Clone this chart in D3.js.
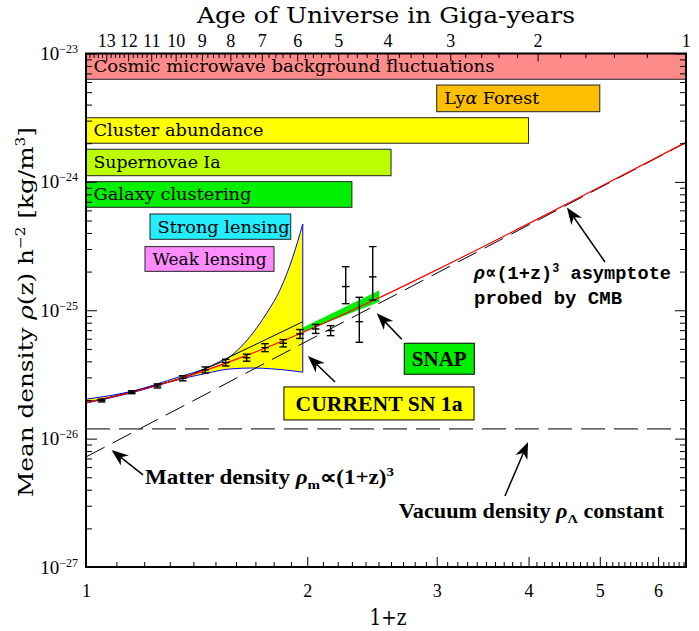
<!DOCTYPE html>
<html><head><meta charset="utf-8">
<script src="https://cdn.jsdelivr.net/npm/d3@7"></script>
<style>body{margin:0;background:#fff}svg{display:block}</style>
</head><body>
<svg id="chart" width="699" height="631"></svg>
<script>
// ---------------- data ----------------
const xDomain = [1, 6.55];              // 1+z
const yDomain = [1e-27, 1e-23];         // kg/m^3 h^-2
const xTickLabels = [1, 2, 3, 4, 5, 6];
const yTickExponents = [-27, -26, -25, -24, -23];
const ageLabels = [13, 12, 11, 10, 9, 8, 7, 6, 5, 4, 3, 2, 1];   // Gyr
const OMEGA_M = 0.38, OMEGA_L = 0.62, AGE_SCALE_GYR = 13.12;

const probeNames = ["Cosmic microwave background fluctuations", "Lyα Forest", "Cluster abundance",
  "Supernovae Ia", "Galaxy clustering", "Strong lensing", "Weak lensing"];
const probeZ0 = [1, 3.0, 1, 1, 1, 1.222, 1.203];
const probeZ1 = [6.55, 5.0, 4.0, 2.60, 2.30, 1.899, 1.802];
const probeRhoTop = [1e-23, 5.68e-24, 3.16e-24, 1.795e-24, 1.004e-24, 5.62e-25, 3.13e-25];
const probeRhoBottom = [6.30e-24, 3.52e-24, 2.0e-24, 1.117e-24, 6.34e-25, 3.57e-25, 2.01e-25];

const totalZ = [1, 1.1, 1.2, 1.3, 1.4, 1.5, 1.6, 1.7, 1.8, 1.9, 2.0, 2.25, 2.5, 3, 4, 5, 6.55];
const totalRho = [1.91e-26, 2.148e-26, 2.434e-26, 2.772e-26, 3.166e-26, 3.62e-26, 4.139e-26, 4.727e-26,
  5.389e-26, 6.128e-26, 6.95e-26, 9.391e-26, 1.244e-25, 2.063e-25, 4.727e-25, 9.119e-25, 2.035e-24];

const matterZ = [1, 6.55];
const matterRho = [7.2e-27, 2.023e-24];
const vacuumZ = [1, 6.55];
const vacuumRho = [1.19e-26, 1.19e-26];

const altModelZ = [1, 1.2, 1.4, 1.57, 1.973];
const altModelRho = [1.91e-26, 2.45e-26, 3.2e-26, 4.35e-26, 8.15e-26];

const sn1aUpperZ = [1, 1.148, 1.342, 1.459, 1.570, 1.687, 1.762, 1.836, 1.912, 1.972];
const sn1aUpperRho = [2.03e-26, 2.32e-26, 3.04e-26, 3.54e-26, 4.35e-26, 6.66e-26, 9.53e-26, 1.44e-25, 2.61e-25, 4.70e-25];
const sn1aLowerZ = [1, 1.148, 1.342, 1.459, 1.570, 1.689, 1.797, 1.912, 1.972];
const sn1aLowerRho = [1.89e-26, 2.26e-26, 2.90e-26, 3.23e-26, 3.49e-26, 3.55e-26, 3.49e-26, 3.37e-26, 3.29e-26];

const snapUpperZ = [1.973, 2.504];
const snapUpperRho = [7.3e-26, 1.42e-25];
const snapLowerZ = [1.973, 2.504];
const snapLowerRho = [6.8e-26, 1.165e-25];

const snZ = [1.050, 1.154, 1.251, 1.354, 1.453, 1.549, 1.654, 1.752, 1.855, 1.955, 2.053, 2.152, 2.256, 2.354, 2.455];
const snRho = [1.98e-26, 2.30e-26, 2.57e-26, 2.95e-26, 3.43e-26, 3.91e-26, 4.27e-26, 5.11e-26, 5.53e-26, 6.54e-26, 7.15e-26, 6.94e-26, 1.53e-25, 8.15e-26, 1.82e-25];
const snLow = [1.93e-26, 2.24e-26, 2.48e-26, 2.82e-26, 3.25e-26, 3.68e-26, 4.01e-26, 4.76e-26, 5.18e-26, 6.03e-26, 6.60e-26, 6.34e-26, 1.125e-25, 5.63e-26, 1.20e-25];
const snHigh = [2.03e-26, 2.36e-26, 2.67e-26, 3.09e-26, 3.62e-26, 4.15e-26, 4.55e-26, 5.49e-26, 5.91e-26, 7.08e-26, 7.75e-26, 7.59e-26, 2.185e-25, 1.262e-25, 3.13e-25];

// annotation anchors in data space [1+z, rho]
const arrowTails = [[5.082, 2.377e-25], [2.689, 5.944e-26], [2.182, 2.764e-26], [1.1955, 5.218e-27], [3.715, 3.578e-27]];
const arrowTips  = [[4.511, 6.321e-25], [2.486, 9.477e-26], [2.004, 4.406e-26], [1.0832, 8.167e-27], [3.994, 9.426e-27]];

// ---------------- styles ----------------
const probeFill = ["#ff8a8a", "#ffbf00", "#ffff00", "#bbff00", "#00f000", "#22eeff", "#ff8cff"];
const probeTextLen = [401, 95, 170, 127, 158, 132, 114];
const SERIF = "'DejaVu Serif', serif";
const NUMF = "'Liberation Serif', 'Times New Roman', serif";

const svg = d3.select("#chart");
const M = {left: 86, right: 686, top: 53.5, bottom: 567};
const x = d3.scaleLog().domain(xDomain).range([M.left, M.right]);
const y = d3.scaleLog().domain(yDomain).range([M.bottom, M.top]);

svg.append("defs").append("clipPath").attr("id", "clip")
  .append("rect").attr("x", M.left).attr("y", M.top).attr("width", M.right - M.left).attr("height", M.bottom - M.top);
const plot = svg.append("g").attr("clip-path", "url(#clip)");

// probe boxes
probeNames.forEach((name, i) => {
  const x0 = x(probeZ0[i]), x1 = x(probeZ1[i]), y0 = y(probeRhoTop[i]), y1 = y(probeRhoBottom[i]);
  plot.append("rect").attr("x", x0).attr("y", y0).attr("width", x1 - x0).attr("height", y1 - y0)
    .attr("fill", probeFill[i]).attr("stroke", "#222").attr("stroke-width", 1);
  const t = plot.append("text").attr("x", x0 + 7.5).attr("y", (y0 + y1) / 2 + 6)
    .attr("font-family", SERIF).attr("font-size", 17).attr("fill", "#000")
    .attr("textLength", probeTextLen[i]).attr("lengthAdjust", "spacingAndGlyphs");
  if (name.includes("α")) {
    t.append("tspan").text("Ly");
    t.append("tspan").attr("font-style", "italic").text("α");
    t.append("tspan").text(" Forest");
  } else t.text(name);
});

// SN1a current constraint region
const upperPts = sn1aUpperZ.map((z, i) => [x(z), y(sn1aUpperRho[i])]);
const lowerPts = sn1aLowerZ.map((z, i) => [x(z), y(sn1aLowerRho[i])]);
const lineMono = d3.line().curve(d3.curveMonotoneX);
const areaPath = lineMono(upperPts) + "L" + lineMono(lowerPts.slice().reverse()).slice(1) + "Z";
plot.append("path").attr("d", areaPath).attr("fill", "#ffff00").attr("stroke", "#0000ff").attr("stroke-width", 1);

// SNAP wedge
const snapPts = snapUpperZ.map((z, i) => [x(z), y(snapUpperRho[i])])
  .concat(snapLowerZ.map((z, i) => [x(z), y(snapLowerRho[i])]).reverse());
plot.append("path").attr("d", d3.line()(snapPts) + "Z").attr("fill", "#00ee00").attr("stroke", "#00dd00").attr("stroke-width", 0.5);

// vacuum and matter dashed lines
plot.append("path").attr("d", d3.line()(vacuumZ.map((z, i) => [x(z), y(vacuumRho[i])])))
  .attr("fill", "none").attr("stroke", "#000").attr("stroke-width", 1).attr("stroke-dasharray", "24,9");
plot.append("path").attr("d", d3.line()(matterZ.map((z, i) => [x(z), y(matterRho[i])])))
  .attr("fill", "none").attr("stroke", "#000").attr("stroke-width", 1).attr("stroke-dasharray", "21,9");

// alternative model line (black) inside yellow
plot.append("path").attr("d", lineMono(altModelZ.map((z, i) => [x(z), y(altModelRho[i])])))
  .attr("fill", "none").attr("stroke", "#000").attr("stroke-width", 1);

// total density line (red)
plot.append("path").attr("d", lineMono(totalZ.map((z, i) => [x(z), y(totalRho[i])])))
  .attr("fill", "none").attr("stroke", "#ff0000").attr("stroke-width", 1.2);

// SN data error bars
const eb = plot.append("g").attr("stroke", "#000").attr("stroke-width", 1.4);
snZ.forEach((z, i) => {
  const cx = x(z), yc = y(snRho[i]), ylo = y(snLow[i]), yhi = y(snHigh[i]);
  eb.append("line").attr("x1", cx).attr("x2", cx).attr("y1", yhi).attr("y2", ylo);
  [yhi, ylo, yc].forEach(v => eb.append("line").attr("x1", cx - 3.8).attr("x2", cx + 3.8).attr("y1", v).attr("y2", v));
});

// ---------------- axes ----------------
const ax = svg.append("g");
const styleAxis = g => { g.select(".domain").remove(); g.selectAll(".tick line").attr("stroke", "#000").attr("stroke-width", 1); };

// bottom
const xMinor = [];
for (let n = 1; n <= 6; n++) for (let k = 1; k <= 9; k++) { const v = n + k / 10; if (v < xDomain[1]) xMinor.push(v); }
ax.append("g").attr("transform", `translate(0,${M.bottom})`)
  .call(d3.axisBottom(x).tickValues(xMinor).tickSizeInner(-5).tickSizeOuter(0).tickFormat("")).call(styleAxis);
ax.append("g").attr("transform", `translate(0,${M.bottom})`)
  .call(d3.axisBottom(x).tickValues(xTickLabels).tickSizeInner(-10).tickSizeOuter(0).tickPadding(17).tickFormat(d3.format("d")))
  .call(styleAxis)
  .call(g => g.selectAll("text").attr("font-family", NUMF).attr("font-size", 18).attr("fill", "#000"));

// left & right
const yMinor = [];
yTickExponents.slice(0, -1).forEach(e => { for (let k = 2; k <= 9; k++) yMinor.push(k * Math.pow(10, e)); });
const yMajor = yTickExponents.map(e => Math.pow(10, e));
ax.append("g").attr("transform", `translate(${M.left},0)`)
  .call(d3.axisLeft(y).tickValues(yMinor).tickSizeInner(-6).tickSizeOuter(0).tickFormat("")).call(styleAxis);
ax.append("g").attr("transform", `translate(${M.right},0)`)
  .call(d3.axisRight(y).tickValues(yMinor).tickSizeInner(-6).tickSizeOuter(0).tickFormat("")).call(styleAxis);
ax.append("g").attr("transform", `translate(${M.right},0)`)
  .call(d3.axisRight(y).tickValues(yMajor).tickSizeInner(-11).tickSizeOuter(0).tickFormat("")).call(styleAxis);
ax.append("g").attr("transform", `translate(${M.left},0)`)
  .call(d3.axisLeft(y).tickValues(yMajor).tickSizeInner(-11).tickSizeOuter(0).tickPadding(8))
  .call(styleAxis)
  .call(g => g.selectAll("text").each(function (d) {
    const e = Math.round(Math.log10(d));
    const t = d3.select(this).text(null).attr("font-family", NUMF).attr("font-size", 19).attr("fill", "#000");
    t.append("tspan").text("10");
    t.append("tspan").attr("dy", -7).attr("font-size", 12).text("−" + (-e));
  }));

// top: age of universe
function ageToOnePlusZ(t) {
  const k = Math.sqrt(OMEGA_L / OMEGA_M);
  return 1 / Math.pow(Math.sinh(t / AGE_SCALE_GYR) / k, 2 / 3);
}
const ageMinor = d3.range(5, 70).filter(i => i % 5 !== 0).map(i => i / 5);
ax.append("g").attr("transform", `translate(0,${M.top})`)
  .call(d3.axisTop(x).tickValues(ageMinor.map(ageToOnePlusZ)).tickSizeInner(-4.5).tickSizeOuter(0).tickFormat("")).call(styleAxis);
ax.append("g").attr("transform", `translate(0,${M.top})`)
  .call(d3.axisTop(x).tickValues(ageLabels.map(ageToOnePlusZ)).tickSizeInner(-8).tickSizeOuter(0).tickPadding(7)
    .tickFormat((d, i) => ageLabels[i]))
  .call(styleAxis)
  .call(g => g.selectAll("text").attr("font-family", NUMF).attr("font-size", 18).attr("fill", "#000"));

// frame
svg.append("rect").attr("x", M.left).attr("y", M.top).attr("width", M.right - M.left).attr("height", M.bottom - M.top)
  .attr("fill", "none").attr("stroke", "#000").attr("stroke-width", 2);

// titles
svg.append("text").attr("x", (M.left + M.right) / 2).attr("y", 23).attr("text-anchor", "middle")
  .attr("font-family", SERIF).attr("font-size", 22).attr("textLength", 378).attr("lengthAdjust", "spacingAndGlyphs")
  .text("Age of Universe in Giga-years");
svg.append("text").attr("x", 388).attr("y", 625).attr("text-anchor", "middle")
  .attr("font-family", SERIF).attr("font-size", 22).attr("textLength", 37).attr("lengthAdjust", "spacingAndGlyphs").text("1+z");

function rich(t, parts) {
  let off = 0;
  parts.forEach(p => {
    const target = p.sup ? -p.sup : p.sub ? p.sub : 0;
    const ts = t.append("tspan").text(p.t);
    if (target - off !== 0) ts.attr("dy", target - off);
    off = target;
    if (p.size) ts.attr("font-size", p.size);
    if (p.it) ts.attr("font-style", "italic");
  });
  return t;
}
rich(svg.append("text").attr("transform", "translate(33,312) rotate(-90)").attr("text-anchor", "middle")
  .attr("font-family", SERIF).attr("font-size", 21).attr("textLength", 370).attr("lengthAdjust", "spacingAndGlyphs"),
  [{t: "Mean density "}, {t: "ρ", it: true}, {t: "(z) h"}, {t: "−2", sup: 8, size: 13}, {t: "  [kg/m"},
   {t: "3", sup: 8, size: 13}, {t: "]"}]);

// ---------------- annotations ----------------
function arrow(tail, tip) {
  const x1 = x(tail[0]), y1 = y(tail[1]), x2 = x(tip[0]), y2 = y(tip[1]);
  const dx = x2 - x1, dy = y2 - y1, L = Math.hypot(dx, dy), ux = dx / L, uy = dy / L, px = -uy, py = ux;
  const hl = 17, hw = 6.5, notch = 12;
  svg.append("line").attr("x1", x1).attr("y1", y1).attr("x2", x2 - ux * notch).attr("y2", y2 - uy * notch)
    .attr("stroke", "#000").attr("stroke-width", 1.5);
  const pts = [[x2, y2], [x2 - ux * hl + px * hw, y2 - uy * hl + py * hw], [x2 - ux * notch, y2 - uy * notch],
    [x2 - ux * hl - px * hw, y2 - uy * hl - py * hw]];
  svg.append("path").attr("d", d3.line()(pts) + "Z").attr("fill", "#000");
}
arrowTails.forEach((t, i) => arrow(t, arrowTips[i]));

// asymptote text
const MONO = "'Liberation Mono', 'DejaVu Sans Mono', monospace";
rich(svg.append("text").attr("x", x(3.372)).attr("y", y(1.738e-25)).attr("font-family", MONO).attr("font-weight", "bold")
  .attr("font-size", 19).attr("textLength", 197).attr("lengthAdjust", "spacingAndGlyphs"),
  [{t: "ρ", it: true}, {t: "∝(1+z)"}, {t: "3", sup: 7, size: 12}, {t: " asymptote"}]);
svg.append("text").attr("x", x(3.372)).attr("y", y(1.12e-25)).attr("font-family", MONO).attr("font-weight", "bold")
  .attr("font-size", 19).attr("textLength", 148).attr("lengthAdjust", "spacingAndGlyphs").text("probed by CMB");

// SNAP box
const BSERIF = "'Liberation Serif', 'Times New Roman', serif";
{
  const x0 = x(2.710), x1 = x(3.375), y0 = y(5.534e-26), y1 = y(3.175e-26);
  svg.append("rect").attr("x", x0).attr("y", y0).attr("width", x1 - x0).attr("height", y1 - y0)
    .attr("fill", "#00ee00").attr("stroke", "#000").attr("stroke-width", 1);
  svg.append("text").attr("x", (x0 + x1) / 2).attr("y", (y0 + y1) / 2 + 7.5).attr("text-anchor", "middle")
    .attr("font-family", BSERIF).attr("font-weight", "bold").attr("font-size", 21).text("SNAP");
}
// CURRENT SN 1a box
{
  const x0 = x(1.859), x1 = x(3.372), y0 = y(2.527e-26), y1 = y(1.398e-26);
  svg.append("rect").attr("x", x0).attr("y", y0).attr("width", x1 - x0).attr("height", y1 - y0)
    .attr("fill", "#ffff00").attr("stroke", "#000").attr("stroke-width", 1);
  svg.append("text").attr("x", (x0 + x1) / 2).attr("y", (y0 + y1) / 2 + 7.5).attr("text-anchor", "middle")
    .attr("font-family", BSERIF).attr("font-weight", "bold").attr("font-size", 21)
    .attr("textLength", 167).attr("lengthAdjust", "spacingAndGlyphs").text("CURRENT SN 1a");
}
// matter & vacuum labels
rich(svg.append("text").attr("x", x(1.2031)).attr("y", y(4.437e-27)).attr("font-family", BSERIF).attr("font-weight", "bold")
  .attr("font-size", 20).attr("textLength", 249).attr("lengthAdjust", "spacingAndGlyphs"),
  [{t: "Matter density "}, {t: "ρ", it: true}, {t: "m", sub: 5, size: 13}, {t: "∝(1+z)"}, {t: "3", sup: 8, size: 13}]);
rich(svg.append("text").attr("x", x(2.664)).attr("y", y(2.399e-27)).attr("font-family", BSERIF).attr("font-weight", "bold")
  .attr("font-size", 20).attr("textLength", 265).attr("lengthAdjust", "spacingAndGlyphs"),
  [{t: "Vacuum density "}, {t: "ρ", it: true}, {t: "Λ", sub: 5, size: 13}, {t: " constant"}]);
</script>
</body></html>
